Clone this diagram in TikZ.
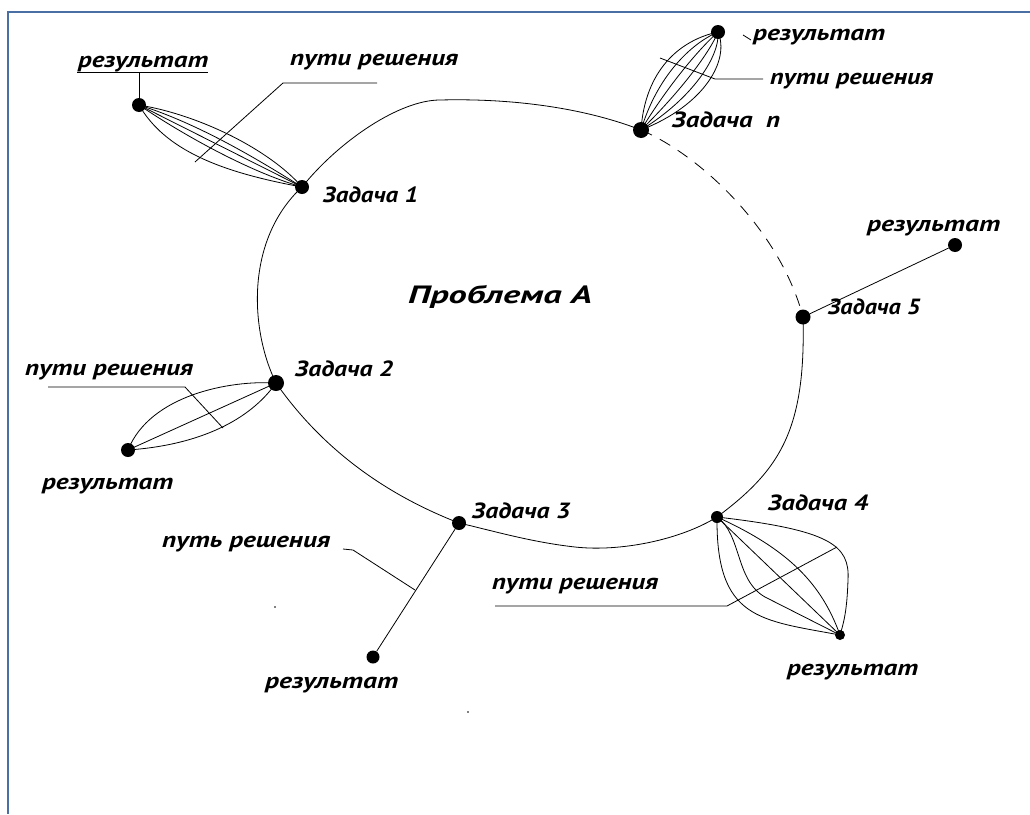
\documentclass[tikz,border=0pt]{standalone}
\usepackage{fontspec}
\usepackage{graphicx}
\setmainfont{PT Sans}
\newcommand{\fitw}[2]{\resizebox{#1pt}{\height}{#2}}
\begin{document}
\begin{tikzpicture}[x=1pt,y=-1pt,
  lbl/.style={font=\bfseries\itshape\fontsize{22}{25}\selectfont, inner sep=0pt, anchor=west},
  title/.style={font=\bfseries\itshape\fontsize{25}{28}\selectfont, inner sep=0pt},
  dot/.style={circle, fill=black, inner sep=0pt, minimum size=14pt},
  wire/.style={line width=0.8pt, black},
  frameline/.style={line width=2pt, draw=frameblue}]
\definecolor{frameblue}{HTML}{4A6FA5}
\useasboundingbox (0,0) rectangle (1030,814);
\fill[white] (0,0) rectangle (1030,814);
\draw[frameline] (1030,12) -- (8,12) -- (8,814);

% dots
\node[dot] (z1) at (302,187) {};
\node[dot] (r1) at (139,105) {};
\node[dot, minimum size=16pt] (zn) at (641,130) {};
\node[dot] (rn) at (718,32) {};
\node[dot, minimum size=15pt] (z5) at (803,317) {};
\node[dot] (r5) at (955,245) {};
\node[dot, minimum size=12pt] (z4) at (717,517) {};
\node[dot, minimum size=10pt] (r4) at (840,635) {};
\node[dot] (z3) at (459,523) {};
\node[dot, minimum size=13pt] (r3) at (373,657) {};
\node[dot, minimum size=16pt] (z2) at (276,383) {};
\node[dot, minimum size=14pt] (r2) at (128,450) {};

% problem circle
\draw[wire] (z1.center) .. controls (340,140) and (400,100) .. (440,100) .. controls (520,98) and (590,110) .. (zn.center);
\draw[wire, dash pattern=on 12pt off 9pt] (zn.center) .. controls (700,155) and (780,230) .. (z5.center);
\draw[wire] (z5.center) .. controls (806,430) and (780,470) .. (z4.center);
\draw[wire] (z4.center) .. controls (680,540) and (620,552) .. (575,547) .. controls (530,542) and (490,530) .. (z3.center);
\draw[wire] (z3.center) .. controls (400,500) and (330,460) .. (z2.center);
\draw[wire] (z2.center) .. controls (250,330) and (245,240) .. (z1.center);

\node[title] (prob) at (500,297) {\fitw{184}{Проблема А}};

% task 1
\draw[wire] (r1.center) .. controls (200,115) and (270,150) .. (z1.center);
\draw[wire] (r1.center) .. controls (200,124) and (262,162) .. (z1.center);
\draw[wire] (r1.center) -- (z1.center);
\draw[wire] (r1.center) .. controls (185,136) and (250,172) .. (z1.center);
\draw[wire] (r1.center) .. controls (165,150) and (220,172) .. (z1.center);
\node[lbl] (t1) at (323,195) {\fitw{95}{Задача 1}};
\node[lbl] (res1) at (78,64) {\fitw{130}{результат}};
\coordinate (u1a) at (77,72);
\coordinate (u1b) at (208,72);
\coordinate (u1s) at (139,72);
\draw[wire] (u1a) -- (u1b);
\draw[wire] (u1s) -- (r1);
\node[lbl] (p1) at (290,62) {\fitw{168}{пути решения}};
\coordinate (c1) at (283,83);
\coordinate (c1a) at (195,162);
\coordinate (c1b) at (377,83);
\draw[wire] (c1a) -- (c1) -- (c1b);

% task n
\draw[wire] (zn.center) .. controls (645,70) and (680,40) .. (rn.center);
\draw[wire] (zn.center) .. controls (657,77) and (690,44) .. (rn.center);
\draw[wire] (zn.center) .. controls (669,84) and (700,48) .. (rn.center);
\draw[wire] (zn.center) .. controls (681,91) and (710,52) .. (rn.center);
\draw[wire] (zn.center) .. controls (693,98) and (720,56) .. (rn.center);
\draw[wire] (zn.center) .. controls (705,105) and (730,60) .. (rn.center);
\node[lbl] (tn) at (672,120) {\fitw{108}{Задача\ \ n}};
\node[lbl] (resn) at (753,37) {\fitw{132}{результат}};
\coordinate (tka) at (743,35);
\coordinate (tkb) at (751,40);
\draw[wire] (tka) -- (tkb);
\node[lbl] (pn) at (770,81) {\fitw{163}{пути решения}};
\coordinate (cna) at (660,58);
\coordinate (cn) at (715,79);
\coordinate (cnb) at (763,79);
\draw[wire] (cna) -- (cn) -- (cnb);

% task 5
\draw[wire] (z5) -- (r5);
\node[lbl] (t5) at (828,307) {\fitw{92}{Задача 5}};
\node[lbl] (res5) at (867,228) {\fitw{133}{результат}};

% task 4
\draw[wire] (z4.center) .. controls (716,620) and (760,620) .. (r4.center);
\draw[wire] (z4.center) .. controls (742,535) and (735,580) .. (765,597) -- (r4.center);
\draw[wire] (z4.center) -- (r4.center);
\draw[wire] (z4.center) .. controls (790,550) and (822,585) .. (r4.center);
\draw[wire] (z4.center) .. controls (830,530) and (850,545) .. (848,580) .. controls (847,610) and (844,622) .. (r4.center);
\node[lbl] (t4) at (768,503) {\fitw{100}{Задача 4}};
\node[lbl] (res4) at (787,672) {\fitw{131}{результат}};
\node[lbl] (p4) at (492,586) {\fitw{166}{пути решения}};
\coordinate (c4a) at (495,606);
\coordinate (c4) at (727,606);
\coordinate (c4b) at (837,547);
\draw[wire] (c4a) -- (c4) -- (c4b);

% task 3
\draw[wire] (z3) -- (r3);
\node[lbl] (t3) at (472,511) {\fitw{98}{Задача 3}};
\node[lbl] (res3) at (265,685) {\fitw{133}{результат}};
\node[lbl] (p3) at (162,544) {\fitw{168}{путь решения}};
\coordinate (c3a) at (343,549);
\coordinate (c3m) at (353,550);
\coordinate (c3) at (415,590);
\draw[wire] (c3a) -- (c3m) -- (c3);

% task 2
\draw[wire] (r2.center) .. controls (150,395) and (230,380) .. (z2.center);
\draw[wire] (r2.center) -- (z2.center);
\draw[wire] (r2.center) .. controls (200,445) and (250,420) .. (z2.center);
\node[lbl] (t2) at (295,369) {\fitw{98}{Задача 2}};
\node[lbl] (res2) at (42,486) {\fitw{131}{результат}};
\node[lbl] (p2) at (25,372) {\fitw{168}{пути решения}};
\coordinate (c2a) at (48,387);
\coordinate (c2) at (185,387);
\coordinate (c2b) at (223,428);
\draw[wire] (c2a) -- (c2) -- (c2b);

% specks
\fill (275,607) circle (0.8pt);
\fill (468,712) circle (0.8pt);
\end{tikzpicture}
\end{document}
